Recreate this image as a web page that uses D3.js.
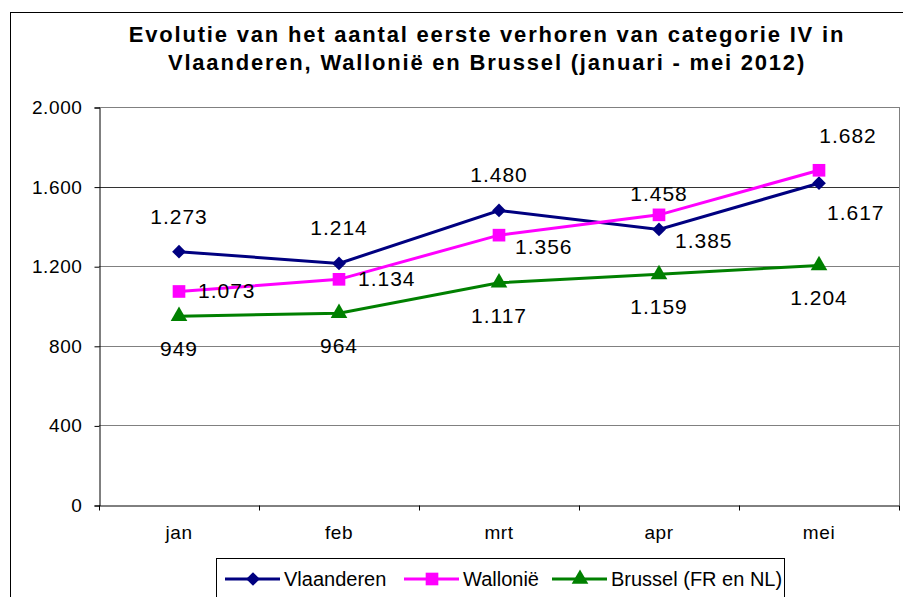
<!DOCTYPE html>
<html>
<head>
<meta charset="utf-8">
<script src="https://cdn.jsdelivr.net/npm/d3@7"></script>
<style>
  body { margin: 0; background: #fff; }
  text { font-family: "Liberation Sans", Arial, sans-serif; fill: #000; }
  .title { font-weight: bold; font-size: 22px; letter-spacing: 1.8px; }
  .tick text { font-size: 19px; letter-spacing: 0.6px; }
  .lbl { font-size: 21px; letter-spacing: 1px; }
  .legend text { font-size: 20px; }
</style>
</head>
<body>
<div class="chart_container"></div>
<script>
var width = 903
var height = 597

// data
var months = ["jan", "feb", "mrt", "apr", "mei"]
var seriesNames = ["Vlaanderen", "Wallonië", "Brussel (FR en NL)"]
var vlaanderen = [1273, 1214, 1480, 1385, 1617]
var wallonie = [1073, 1134, 1356, 1458, 1682]
var brussel = [949, 964, 1117, 1159, 1204]
var yTicks = [0, 400, 800, 1200, 1600, 2000]

// where each data label sits relative to its point
var vlPos = ["above", "above", "above", "rightBelow", "belowRight"]
var waPos = ["right", "right", "rightBelow", "aboveLow", "aboveRight"]
var brPos = ["below", "below", "below", "below", "below"]

var colors = ["#000080", "#FF00FF", "#008000"]
var symbols = [d3.symbolDiamond2, d3.symbolSquare, d3.symbolTriangle]
var symSizes = [120, 160, 120]

var plot = { left: 99, top: 107, right: 899, bottom: 505 }

var svg = d3.select(".chart_container").append("svg")
  .attr("width", width)
  .attr("height", height)

// outer chart border
svg.append("rect")
  .attr("x", 10.5).attr("y", 12.5)
  .attr("width", 905).attr("height", 600)
  .attr("fill", "none")
  .attr("stroke", "#000")

svg.append("text")
  .attr("class", "title")
  .attr("x", 487).attr("y", 42)
  .attr("text-anchor", "middle")
  .text("Evolutie van het aantal eerste verhoren van categorie IV in")
svg.append("text")
  .attr("class", "title")
  .attr("x", 487).attr("y", 70)
  .attr("text-anchor", "middle")
  .text("Vlaanderen, Wallonië en Brussel (januari - mei 2012)")

var x = d3.scaleBand()
  .domain(months)
  .range([plot.left, plot.right])

var y = d3.scaleLinear()
  .domain([0, 2000])
  .range([plot.bottom, plot.top])

var fmt = function (v) {
  return d3.format(",")(v).replace(/,/g, ".")
}

// gridlines
svg.append("g")
  .selectAll("line")
  .data(yTicks.slice(1))
  .enter()
  .append("line")
  .attr("x1", plot.left).attr("x2", plot.right)
  .attr("y1", function (d) { return Math.round(y(d)) + 0.5 })
  .attr("y2", function (d) { return Math.round(y(d)) + 0.5 })
  .attr("stroke", function (d) { return d == 1600 ? "#333" : "#808080" })

// right plot border
svg.append("line")
  .attr("x1", plot.right + 0.5).attr("x2", plot.right + 0.5)
  .attr("y1", plot.top).attr("y2", plot.bottom)
  .attr("stroke", "#808080")

var axisLeft = d3.axisLeft(y)
  .tickValues(yTicks)
  .tickFormat(fmt)
  .tickSize(5)
  .tickPadding(12)

svg.append("g")
  .attr("transform", "translate(" + (plot.left + 0.5) + ",0.5)")
  .call(axisLeft)
  .call(function (g) { g.selectAll("path, line").attr("stroke", "#000") })

var axisBottom = d3.axisBottom(x)
  .tickSize(0)
  .tickPadding(20)

var xg = svg.append("g")
  .attr("transform", "translate(0," + (plot.bottom + 0.5) + ")")
  .call(axisBottom)
xg.select(".domain").attr("stroke", "#000")

// category boundary ticks
xg.selectAll(".bound")
  .data(months.concat(["end"]))
  .enter()
  .append("line")
  .attr("x1", function (d, i) { return Math.round(plot.left + i * x.step()) + 0.5 })
  .attr("x2", function (d, i) { return Math.round(plot.left + i * x.step()) + 0.5 })
  .attr("y1", 0).attr("y2", 5)
  .attr("stroke", "#000")

var allSeries = [vlaanderen, wallonie, brussel]
var allPos = [vlPos, waPos, brPos]

function cx(d, i) { return x(months[i]) + x.bandwidth() / 2 }

var line = d3.line()
  .x(function (d, i) { return cx(d, i) })
  .y(function (d) { return y(d) })

// offsets for each label position: dx, dy, anchor
var labelOffsets = {
  above: [0, -28, "middle"],
  aboveLow: [0, -14, "middle"],
  aboveRight: [29, -27, "middle"],
  below: [0, 40, "middle"],
  right: [19, 7, "start"],
  rightBelow: [16, 19, "start"],
  belowRight: [8, 37, "start"]
}

allSeries.forEach(function (vals, s) {
  svg.append("path")
    .datum(vals)
    .attr("d", line)
    .attr("fill", "none")
    .attr("stroke", colors[s])
    .attr("stroke-width", 3)

  svg.append("g")
    .selectAll("path")
    .data(vals)
    .enter()
    .append("path")
    .attr("d", d3.symbol().type(symbols[s]).size(symSizes[s]))
    .attr("transform", function (d, i) {
      return "translate(" + cx(d, i) + "," + y(d) + ")"
    })
    .attr("fill", colors[s])

  svg.append("g")
    .selectAll("text")
    .data(vals)
    .enter()
    .append("text")
    .attr("class", "lbl")
    .attr("x", function (d, i) { return cx(d, i) + labelOffsets[allPos[s][i]][0] })
    .attr("y", function (d, i) { return y(d) + labelOffsets[allPos[s][i]][1] })
    .attr("text-anchor", function (d, i) { return labelOffsets[allPos[s][i]][2] })
    .text(fmt)
})

// legend
var legend = svg.append("g").attr("class", "legend")
legend.append("rect")
  .attr("x", 216.5).attr("y", 558.5)
  .attr("width", 568).attr("height", 60)
  .attr("fill", "#fff")
  .attr("stroke", "#000")

var legendX = [225, 404, 552]
seriesNames.forEach(function (name, s) {
  var lx = legendX[s]
  legend.append("line")
    .attr("x1", lx).attr("x2", lx + 55)
    .attr("y1", 579).attr("y2", 579)
    .attr("stroke", colors[s])
    .attr("stroke-width", 3)
  legend.append("path")
    .attr("d", d3.symbol().type(symbols[s]).size(symSizes[s]))
    .attr("transform", "translate(" + (lx + 28) + ",579)")
    .attr("fill", colors[s])
  legend.append("text")
    .attr("x", lx + 59).attr("y", 586)
    .text(name)
})
</script>
</body>
</html>
